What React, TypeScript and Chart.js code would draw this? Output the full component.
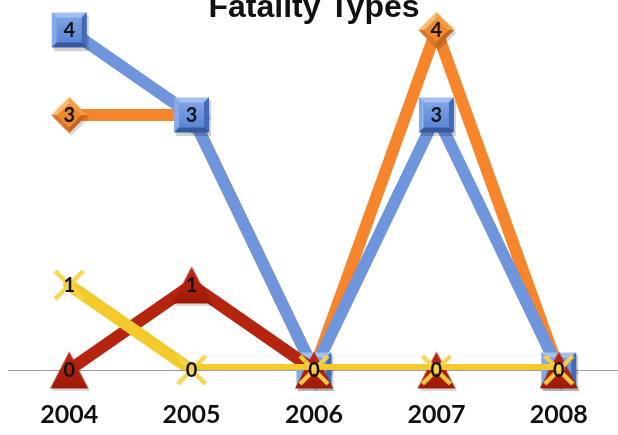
import React, { useEffect, useRef } from 'react';
import { Chart, registerables } from 'chart.js';

Chart.register(...registerables);

const titleText = 'Fatality Types';
const years = ['2004', '2005', '2006', '2007', '2008'];
const blueSeries = [4, 3, 0, 3, 0];
const orangeSeries = [3, 3, 0, 4, 0];
const redSeries = [0, 1, 0, 0, 0];
const yellowSeries = [1, 0, 0, 0, 0];

function poly(g: CanvasRenderingContext2D, pts: number[][], fill: string | CanvasGradient) {
  g.beginPath();
  g.moveTo(pts[0][0], pts[0][1]);
  for (let i = 1; i < pts.length; i++) g.lineTo(pts[i][0], pts[i][1]);
  g.closePath();
  g.fillStyle = fill;
  g.fill();
}

function makeSquare(): HTMLCanvasElement {
  const s = 35, o = 3, b = 5;
  const c = document.createElement('canvas');
  c.width = s + 2 * o; c.height = s + 2 * o;
  const g = c.getContext('2d')!;
  g.fillStyle = 'rgba(0,0,0,0.18)';
  g.fillRect(o + 2, o + 3, s, s);
  g.fillStyle = '#4e7bcb';
  g.fillRect(o, o, s, s);
  poly(g, [[o, o], [o + s, o], [o + s - b, o + b], [o + b, o + b]], '#a3c0f1');
  poly(g, [[o, o], [o + b, o + b], [o + b, o + s - b], [o, o + s]], '#87a9e7');
  poly(g, [[o + s, o], [o + s, o + s], [o + s - b, o + s - b], [o + s - b, o + b]], '#4169b6');
  poly(g, [[o, o + s], [o + s, o + s], [o + s - b, o + s - b], [o + b, o + s - b]], '#34599f');
  const gr = g.createLinearGradient(0, o + b, 0, o + s - b);
  gr.addColorStop(0, '#7ea3e6');
  gr.addColorStop(1, '#5a86d5');
  g.fillStyle = gr;
  g.fillRect(o + b, o + b, s - 2 * b, s - 2 * b);
  return c;
}

function makeDiamond(): HTMLCanvasElement {
  const r = 18, o = 3;
  const c = document.createElement('canvas');
  c.width = 2 * (r + o); c.height = 2 * (r + o);
  const g = c.getContext('2d')!;
  const cx = r + o, cy = r + o, ri = r - 6;
  poly(g, [[cx + 2, cy - r + 3], [cx + r + 2, cy + 3], [cx + 2, cy + r + 3], [cx - r + 2, cy + 3]], 'rgba(0,0,0,0.15)');
  poly(g, [[cx, cy - r], [cx - r, cy], [cx - ri, cy], [cx, cy - ri]], '#f9bb6c');
  poly(g, [[cx, cy - r], [cx + r, cy], [cx + ri, cy], [cx, cy - ri]], '#f39c42');
  poly(g, [[cx + r, cy], [cx, cy + r], [cx, cy + ri], [cx + ri, cy]], '#c5641a');
  poly(g, [[cx - r, cy], [cx, cy + r], [cx, cy + ri], [cx - ri, cy]], '#d8752a');
  poly(g, [[cx, cy - ri], [cx + ri, cy], [cx, cy + ri], [cx - ri, cy]], '#ef8a2c');
  return c;
}

function makeTriangle(): HTMLCanvasElement {
  const w = 38, h = 37, o = 2;
  const c = document.createElement('canvas');
  c.width = w + 2 * o; c.height = h + 2 * o;
  const g = c.getContext('2d')!;
  poly(g, [[o + w / 2 + 2, o + 3], [o + w + 2, o + h + 2], [o + 2, o + h + 2]], 'rgba(0,0,0,0.15)');
  const gr = g.createLinearGradient(0, o, 0, o + h);
  gr.addColorStop(0, '#bd2813');
  gr.addColorStop(1, '#a01a08');
  poly(g, [[o + w / 2, o], [o + w, o + h], [o, o + h]], gr);
  return c;
}

function makeCross(): HTMLCanvasElement {
  const s = 36;
  const c = document.createElement('canvas');
  c.width = s; c.height = s;
  const g = c.getContext('2d')!;
  g.strokeStyle = 'rgba(246,212,70,0.95)';
  g.lineWidth = 4.5;
  g.beginPath();
  g.moveTo(4, 4); g.lineTo(s - 4, s - 4);
  g.moveTo(s - 4, 4); g.lineTo(4, s - 4);
  g.stroke();
  return c;
}

const valueLabels = {
  id: 'valueLabels',
  afterDatasetsDraw(chart: any) {
    const ctx = chart.ctx;
    const seen = new Set<string>();
    ctx.save();
    ctx.font = 'bold 20px Lato, "Open Sans", sans-serif';
    ctx.fillStyle = '#121212';
    ctx.textAlign = 'center';
    ctx.textBaseline = 'middle';
    chart.data.datasets.forEach((ds: any, i: number) => {
      if (!ds.isMarker) return;
      const meta = chart.getDatasetMeta(i);
      meta.data.forEach((pt: any, j: number) => {
        const key = Math.round(pt.x) + ':' + Math.round(pt.y) + ':' + ds.data[j];
        if (seen.has(key)) return;
        seen.add(key);
        ctx.fillText(String(ds.data[j]), pt.x, pt.y + 1);
      });
    });
    ctx.restore();
  },
};

export default function App() {
  const ref = useRef<HTMLCanvasElement>(null);

  useEffect(() => {
    if (!ref.current) return;
    const lineClip = { left: false, top: false, right: false, bottom: 0 };
    const lineDs = (data: number[], color: string, order: number) => ({
      data,
      borderColor: color,
      backgroundColor: color,
      borderWidth: 12,
      pointRadius: 0,
      borderJoinStyle: 'round',
      borderCapStyle: 'round',
      tension: 0,
      fill: false,
      clip: lineClip,
      order,
    });
    const markerDs = (data: number[], style: HTMLCanvasElement, order: number) => ({
      data,
      showLine: false,
      pointStyle: style,
      pointRadius: 1,
      borderWidth: 0,
      clip: false,
      order,
      isMarker: true,
    });
    const chart = new Chart(ref.current, {
      type: 'line',
      data: {
        labels: years,
        datasets: [
          lineDs(orangeSeries, '#f7852b', 8),
          markerDs(orangeSeries, makeDiamond(), 7),
          lineDs(blueSeries, '#6f95dc', 6),
          markerDs(blueSeries, makeSquare(), 5),
          lineDs(redSeries, '#b5240f', 4),
          markerDs(redSeries, makeTriangle(), 3),
          lineDs(yellowSeries, '#f4c92c', 2),
          markerDs(yellowSeries, makeCross(), 1),
        ] as any,
      },
      options: {
        responsive: false,
        devicePixelRatio: 1,
        animation: false,
        events: [],
        layout: { padding: { left: 8, right: 6, top: 0, bottom: 7 } },
        plugins: {
          legend: { display: false },
          tooltip: { enabled: false },
          title: {
            display: true,
            text: titleText,
            color: '#111',
            font: { family: '"Liberation Sans", Arial, sans-serif', size: 32, weight: 'bold' },
            padding: { top: 8.8, bottom: 2.8 },
          },
        },
        scales: {
          x: {
            offset: true,
            grid: { display: false, drawTicks: false },
            border: { display: true, color: '#a0a0a0', width: 1 },
            ticks: {
              color: '#111',
              padding: 30,
              font: { family: 'Lato, "Open Sans", sans-serif', size: 25, weight: 'bold' },
            },
          },
          y: {
            display: false,
            min: 0,
            max: 4,
          },
        },
      },
      plugins: [valueLabels],
    } as any);
    return () => chart.destroy();
  }, []);

  return (
    <div style={{ position: 'fixed', left: 0, top: 0, width: 618, height: 435, overflow: 'hidden', background: '#fff' }}>
      <canvas
        ref={ref}
        width={626}
        height={487}
        style={{ position: 'absolute', left: 0, top: -20, width: 626, height: 487 }}
      />
    </div>
  );
}
